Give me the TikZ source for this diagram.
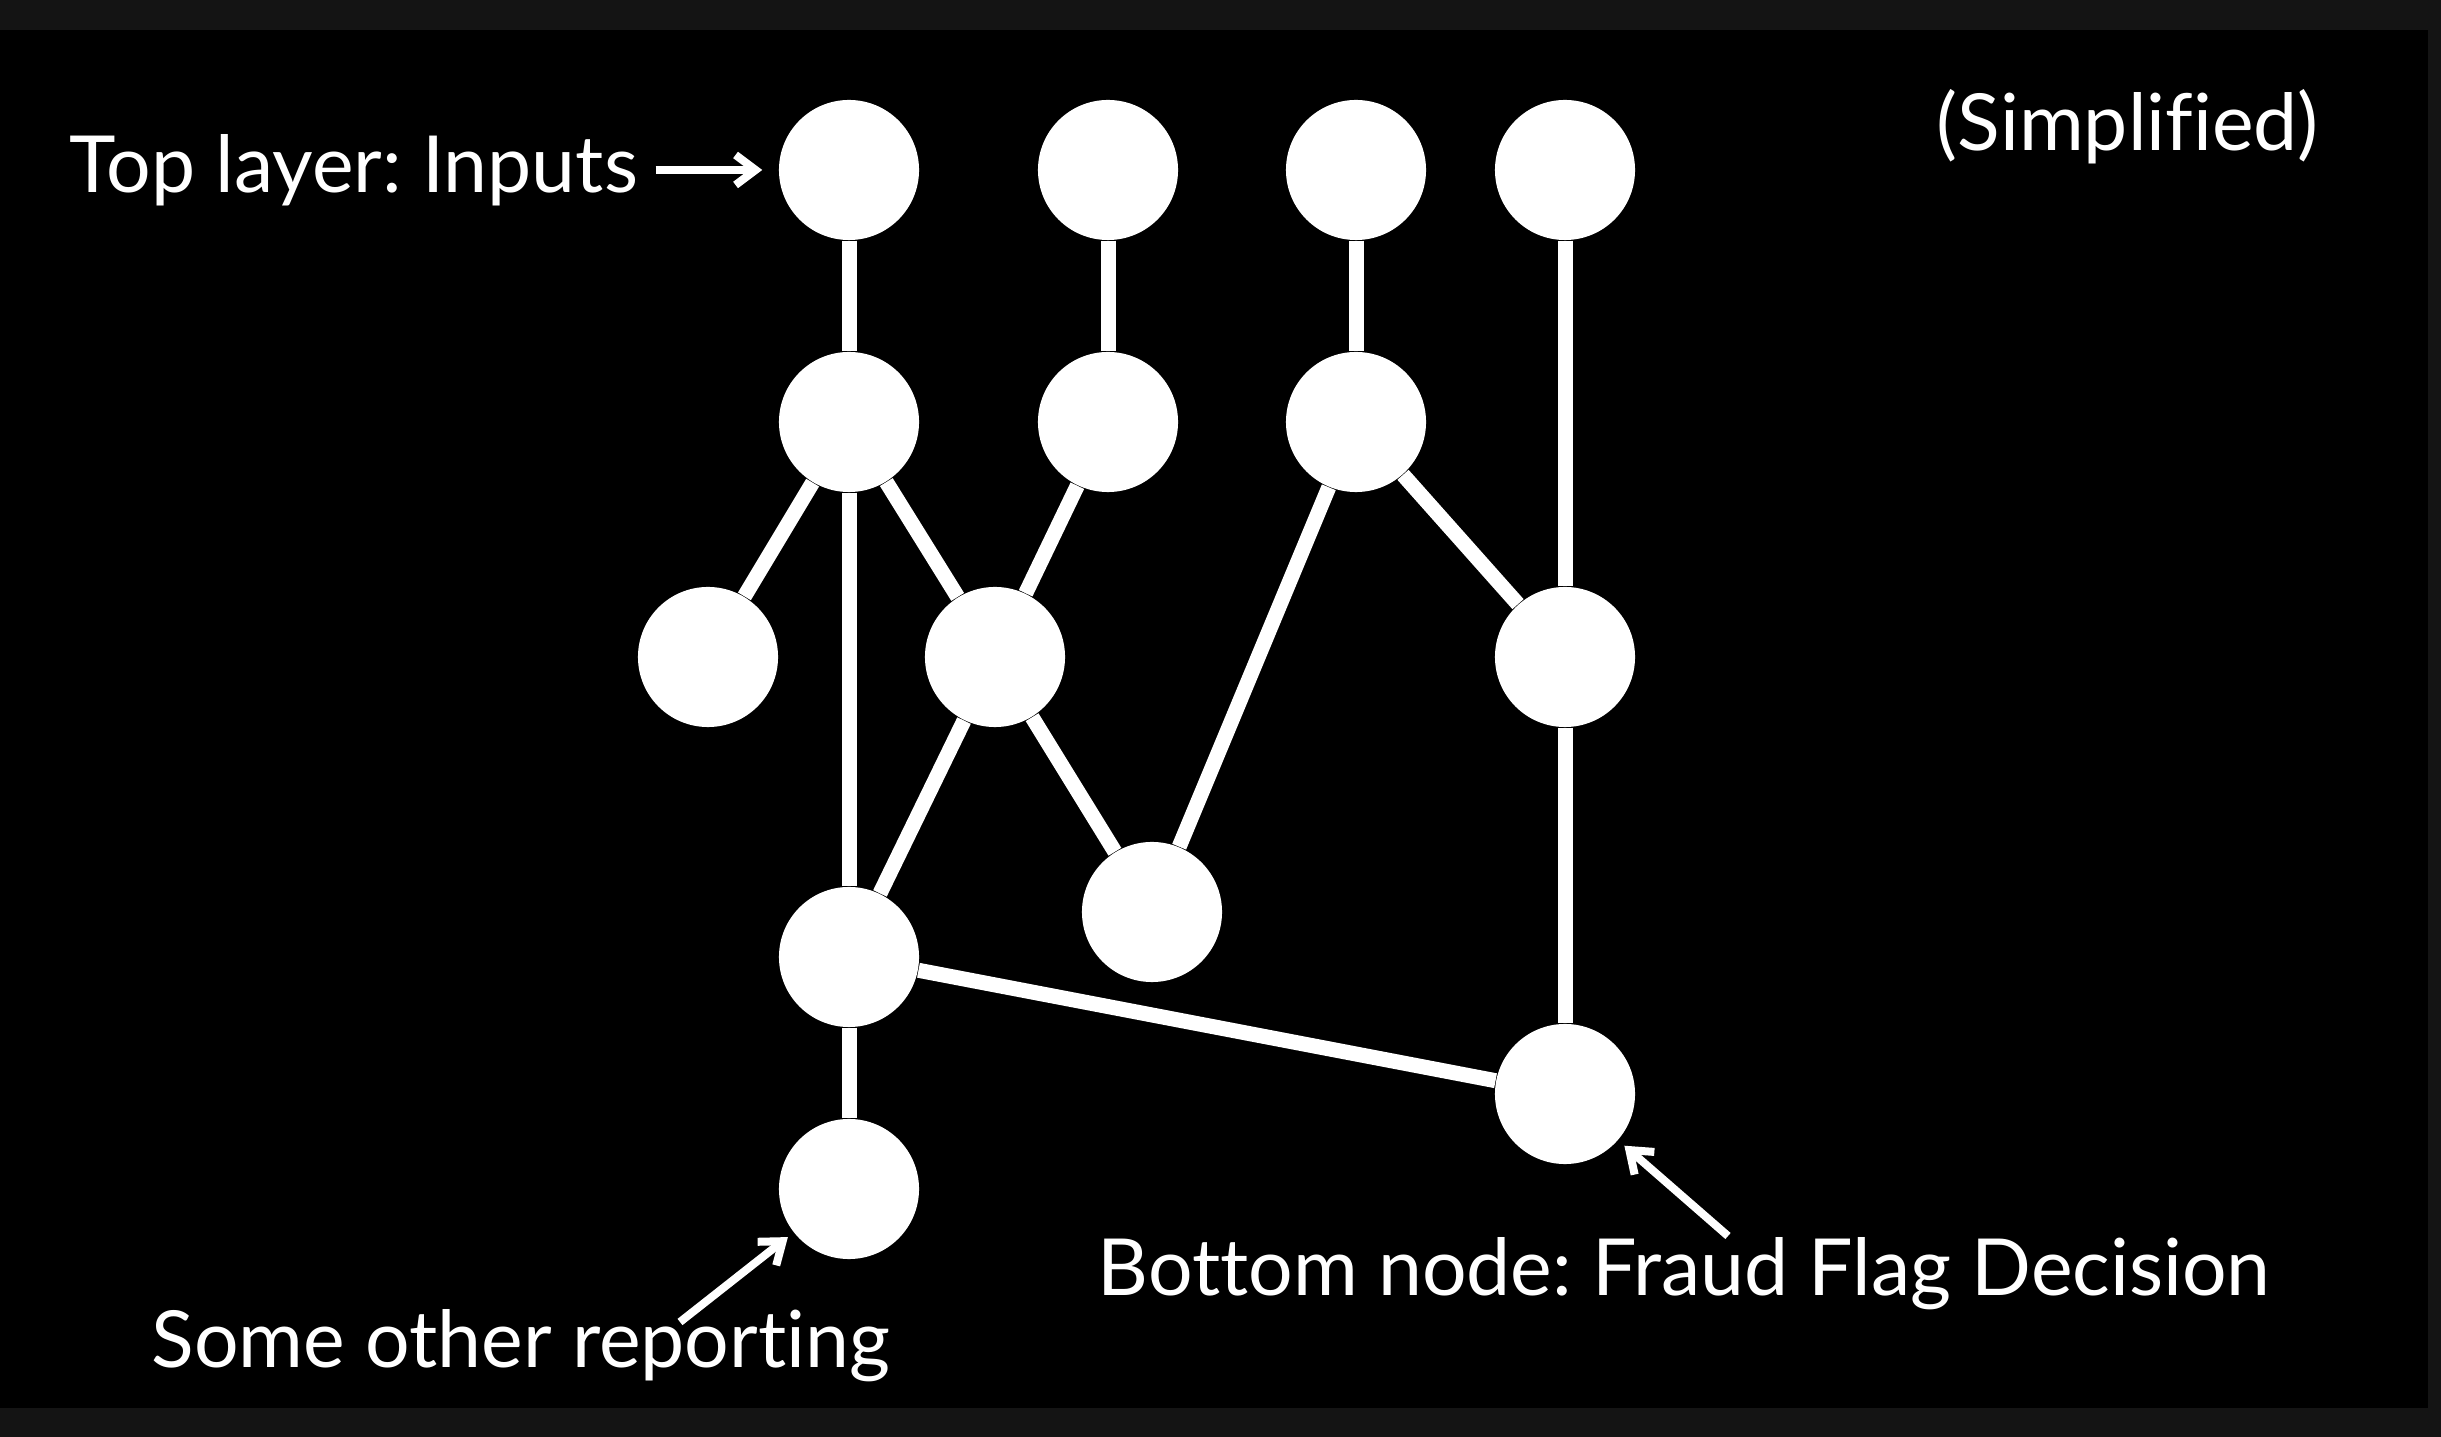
\documentclass[tikz,border=0pt]{standalone}
\usepackage{fontspec}
\setmainfont{Lato}[Ligatures=NoCommon]
\usepackage{tikz}
\usetikzlibrary{positioning,arrows.meta}
\definecolor{framegray}{HTML}{141414}
\frenchspacing

\begin{document}
\begin{tikzpicture}[x=0.01cm, y=-0.01cm,
    neuron/.style={circle, fill=white, minimum size=1.4cm, inner sep=0pt},
    link/.style={white, line width=0.15cm},
    caption/.style={text=white, inner sep=0pt, font=\fontsize{22.4}{26}\selectfont},
    pointer/.style={white, line width=0.08cm, -{Straight Barb[length=0.2cm,width=0.3cm]}}]
    % Frame and black screen
    \fill[framegray] (0,0) rectangle (2441,1437);
    \fill[black] (0,30) rectangle (2428,1408);

    % Top layer
    \node[neuron] (t1) at (849,170) {};
    \node[neuron] (t2) at (1108,170) {};
    \node[neuron] (t3) at (1356,170) {};
    \node[neuron] (t4) at (1565,170) {};
    % Second layer
    \node[neuron] (a1) at (849,422) {};
    \node[neuron] (a2) at (1108,422) {};
    \node[neuron] (a3) at (1356,422) {};
    % Third layer
    \node[neuron] (b1) at (708,657) {};
    \node[neuron] (b2) at (995,657) {};
    \node[neuron] (b3) at (1565,657) {};
    % Lower nodes
    \node[neuron] (c1) at (849,957) {};
    \node[neuron] (c2) at (1152,912) {};
    \node[neuron] (fraud) at (1565,1094) {};
    \node[neuron] (report) at (849,1189) {};

    % Links
    \foreach \u/\v in {t1/a1, t2/a2, t3/a3, t4/b3, a1/b1, a1/b2, a1/c1, a2/b2,
                       a3/c2, a3/b3, b2/c1, b2/c2, b3/fraud, c1/fraud, c1/report}
        \draw[link] (\u) -- (\v);

    % Labels
    \node[caption, anchor=base west] (toplbl) at (69,193) {Top layer: Inputs};
    \node[caption, anchor=base west] (simplbl) at (1936,151) {(Simplified)};
    \node[caption, anchor=base west] (otherlbl) at (151,1367) {Some other reporting};
    \node[caption, anchor=base west] (fraudlbl) at (1097,1295) {Bottom node: Fraud Flag Decision};

    % Pointers
    \draw[pointer, shorten <=0.17cm, shorten >=0.16cm] (toplbl.east |- t1.center) -- (t1.west);
    \coordinate (othertail) at (680,1322);
    \draw[pointer, shorten >=0.07cm] (othertail) -- (report);
    \coordinate (fraudtail) at (1728,1236);
    \draw[pointer, shorten >=0.08cm] (fraudtail) -- (fraud);
\end{tikzpicture}
\end{document}
